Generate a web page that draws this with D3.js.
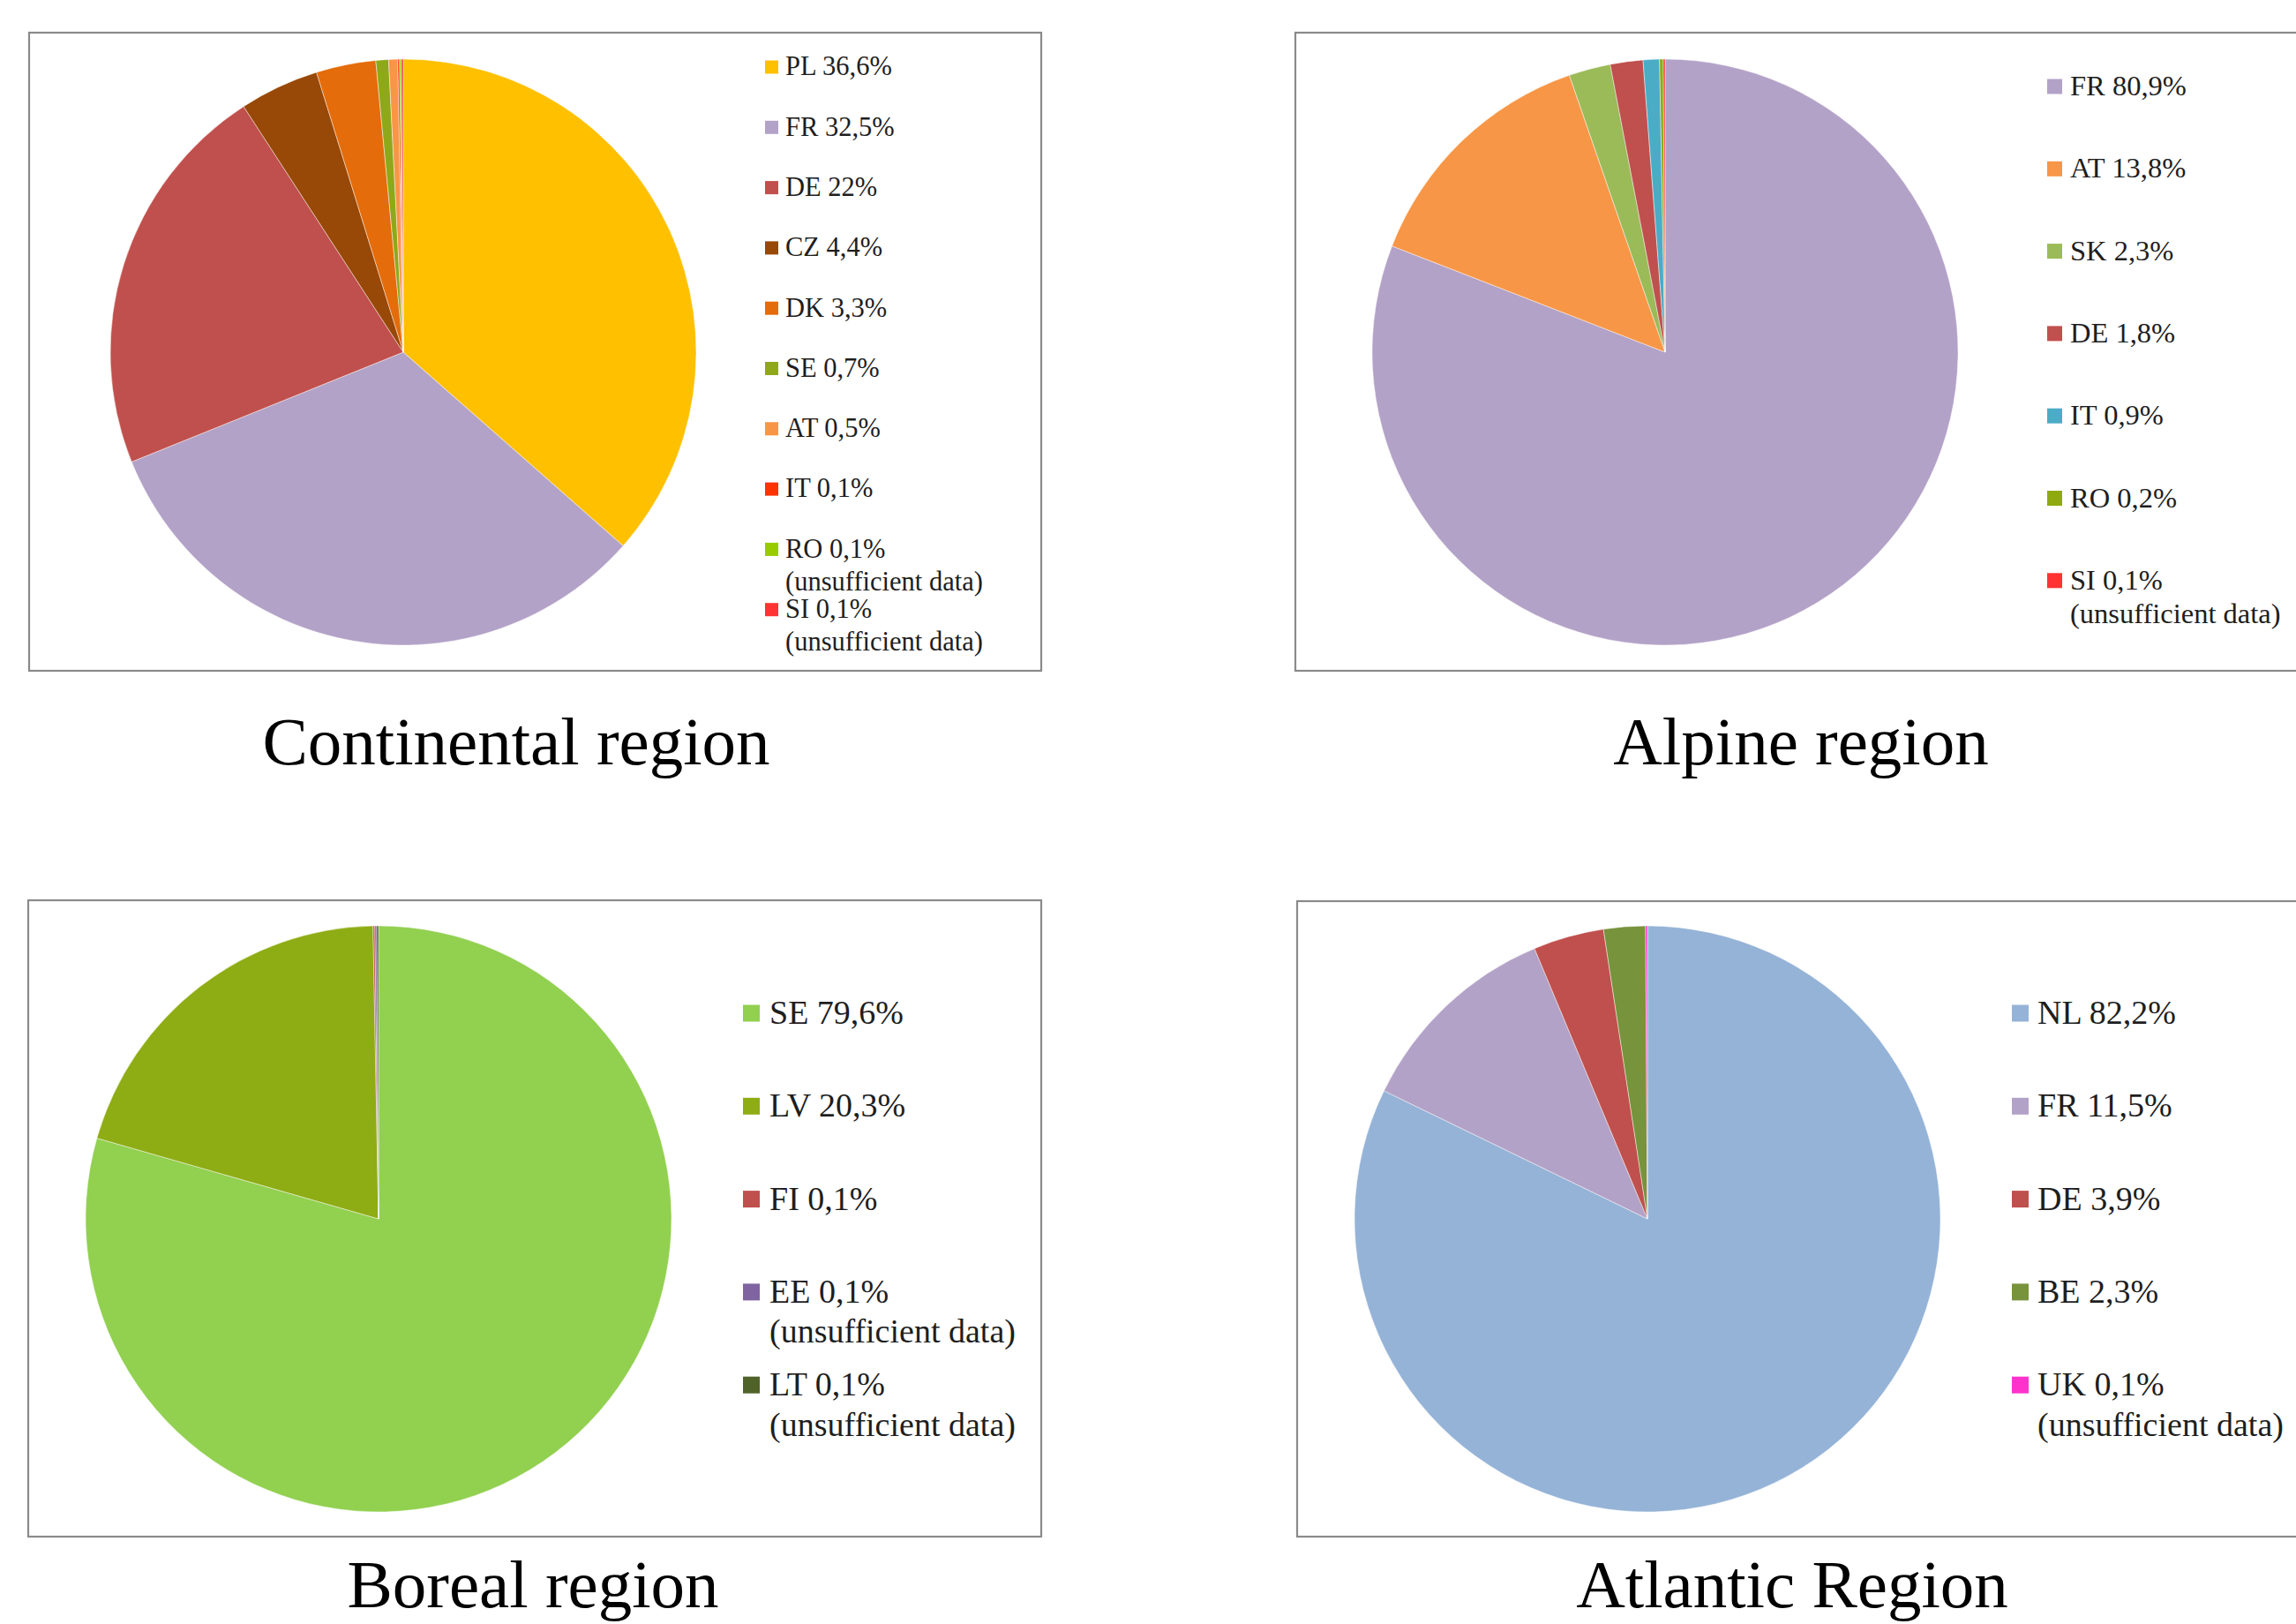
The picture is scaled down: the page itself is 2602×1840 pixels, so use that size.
<!DOCTYPE html>
<html>
<head>
<meta charset="utf-8">
<script src="https://cdn.jsdelivr.net/npm/d3@7"></script>
<style>
  html, body { margin: 0; padding: 0; background: #fff; }
  svg { display: block; }
  text { font-family: "Liberation Serif", "DejaVu Serif", serif; fill: #1e1e1e; }
</style>
</head>
<body>
<svg id="chart" width="2602" height="1840"></svg>
<script>
// Share of each country per biogeographical region (%)
const continentalCountries = ["PL", "FR", "DE", "CZ", "DK", "SE", "AT", "IT", "RO", "SI"];
const continentalValues    = [36.6, 32.5, 22, 4.4, 3.3, 0.7, 0.5, 0.1, 0.1, 0.1];
const continentalColors    = ["#FFC000", "#B3A2C7", "#C0504D", "#984807", "#E46C0A", "#8EA81A", "#F79646", "#FF3300", "#99CC00", "#FF3333"];
const continentalFlags     = [false, false, false, false, false, false, false, false, true, true];

const alpineCountries = ["FR", "AT", "SK", "DE", "IT", "RO", "SI"];
const alpineValues    = [80.9, 13.8, 2.3, 1.8, 0.9, 0.2, 0.1];
const alpineColors    = ["#B3A2C7", "#F79646", "#9BBB59", "#C0504D", "#4BACC6", "#8EAA10", "#FF3333"];
const alpineFlags     = [false, false, false, false, false, false, true];

const borealCountries = ["SE", "LV", "FI", "EE", "LT"];
const borealValues    = [79.6, 20.3, 0.1, 0.1, 0.1];
const borealColors    = ["#92D050", "#8EAC14", "#C0504D", "#8064A2", "#4F6228"];
const borealFlags     = [false, false, false, true, true];

const atlanticCountries = ["NL", "FR", "DE", "BE", "UK"];
const atlanticValues    = [82.2, 11.5, 3.9, 2.3, 0.1];
const atlanticColors    = ["#95B3D7", "#B3A2C7", "#C0504D", "#77933C", "#FF33CC"];
const atlanticFlags     = [false, false, false, false, true];

const regionTitles = ["Continental region", "Alpine region", "Boreal region", "Atlantic Region"];
const noteText = "(unsufficient data)";

// Panel geometry
const panels = [
  { countries: continentalCountries, values: continentalValues, colors: continentalColors, flags: continentalFlags,
    box: [33, 37, 1180, 760], cx: 457, cy: 399, r: 332,
    legend: { sx: 867, tx: 890, y0: 75, step: 68.3, sub: 36.8, size: 30.5, sq: 15 },
    title: { x: 585, y: 866 } },
  { countries: alpineCountries, values: alpineValues, colors: alpineColors, flags: alpineFlags,
    box: [1468, 37, 2640, 760], cx: 1887, cy: 399, r: 332,
    legend: { sx: 2320, tx: 2346, y0: 97, step: 93.3, sub: 38.5, size: 32.5, sq: 17 },
    title: { x: 2041, y: 866 } },
  { countries: borealCountries, values: borealValues, colors: borealColors, flags: borealFlags,
    box: [32, 1020, 1180, 1741], cx: 429, cy: 1381, r: 332,
    legend: { sx: 842, tx: 872, y0: 1147, step: 105.3, sub: 45.5, size: 38, sq: 19 },
    title: { x: 604, y: 1821 } },
  { countries: atlanticCountries, values: atlanticValues, colors: atlanticColors, flags: atlanticFlags,
    box: [1470, 1021, 2640, 1741], cx: 1867, cy: 1381, r: 332,
    legend: { sx: 2280, tx: 2309, y0: 1147, step: 105.3, sub: 45.5, size: 38, sq: 19 },
    title: { x: 2031, y: 1821 } }
];

const fmt = v => String(v).replace(".", ",") + "%";

const svg = d3.select("#chart");

panels.forEach((p, pi) => {
  const g = svg.append("g");

  // frame
  g.append("rect")
    .attr("x", p.box[0]).attr("y", p.box[1])
    .attr("width", p.box[2] - p.box[0]).attr("height", p.box[3] - p.box[1])
    .attr("fill", "#fff").attr("stroke", "#8a8a8a").attr("stroke-width", 2.2);

  const rows = p.countries.map((c, i) => ({ c, v: p.values[i], col: p.colors[i], note: p.flags[i] }));

  const pie = d3.pie().value(d => d.v).sort(null);
  const arc = d3.arc().innerRadius(0).outerRadius(p.r);

  g.append("g").attr("transform", `translate(${p.cx},${p.cy})`)
    .selectAll("path").data(pie(rows)).join("path")
    .attr("d", arc)
    .attr("fill", d => d.data.col)
    .attr("stroke", "#fff").attr("stroke-opacity", 0.45).attr("stroke-width", 1);

  // legend
  const L = p.legend;
  const item = g.append("g").selectAll("g").data(rows).join("g")
    .attr("transform", (d, i) => `translate(0,${L.y0 + i * L.step})`);
  item.append("rect")
    .attr("x", L.sx).attr("y", -L.sq / 2 + 1)
    .attr("width", L.sq).attr("height", L.sq)
    .attr("fill", d => d.col);
  item.append("text")
    .attr("x", L.tx).attr("y", 0).attr("dy", "0.34em")
    .attr("font-size", L.size)
    .text(d => `${d.c} ${fmt(d.v)}`);
  item.filter(d => d.note).append("text")
    .attr("x", L.tx).attr("y", L.sub).attr("dy", "0.34em")
    .attr("font-size", L.size)
    .text(noteText);

  // region title
  svg.append("text")
    .attr("x", p.title.x).attr("y", p.title.y)
    .attr("text-anchor", "middle")
    .attr("font-size", 77)
    .style("fill", "#000")
    .text(regionTitles[pi]);
});
</script>
</body>
</html>
